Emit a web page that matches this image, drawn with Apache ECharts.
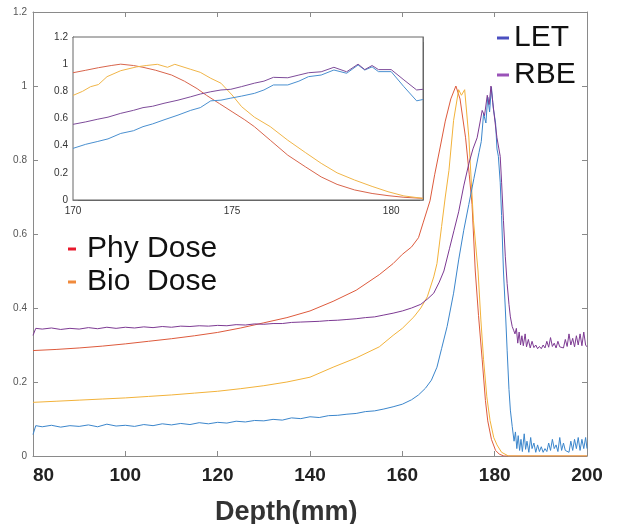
<!DOCTYPE html>
<html>
<head>
<meta charset="utf-8">
<script src="https://cdn.jsdelivr.net/npm/echarts@6/dist/echarts.min.js"></script>
<style>
  html, body { margin: 0; padding: 0; background: #fff; }
  #chart { width: 618px; height: 524px; }
</style>
</head>
<body>
<div id="chart"></div>
<script>
// main plot: [depth mm, normalised value]
const phyDose = [[80,0.285],[85,0.288],[90,0.292],[95,0.297],[100,0.303],[105,0.31],[110,0.317],[115,0.325],[120,0.334],[125,0.346],[130,0.36],[135,0.374],[140,0.392],[145,0.418],[150,0.448],[155,0.49],[158,0.52],[160,0.545],[162,0.565],[163.5,0.59],[164.5,0.63],[166,0.69],[167,0.76],[168.2,0.835],[169.3,0.905],[170.5,0.965],[171.6,1.0],[172.5,0.965],[173.7,0.86],[174.5,0.76],[175.1,0.68],[175.8,0.5],[176.5,0.38],[177.3,0.26],[178,0.15],[178.5,0.095],[179.3,0.045],[180.2,0.015],[181,0.005],[182,0],[200,0]]
const bioDose = [[80,0.145],[85,0.148],[90,0.151],[95,0.154],[100,0.157],[105,0.161],[110,0.165],[115,0.17],[120,0.175],[125,0.182],[130,0.19],[135,0.2],[140,0.213],[145,0.24],[150,0.265],[155,0.295],[158,0.326],[160,0.345],[162.5,0.376],[164,0.4],[165.4,0.43],[166.8,0.484],[167.5,0.52],[168.5,0.62],[169.3,0.7],[170.1,0.772],[171.1,0.907],[172.2,0.99],[172.8,0.975],[173.5,0.99],[174.4,0.862],[175.4,0.637],[176.4,0.5],[177,0.37],[177.6,0.26],[178.3,0.16],[179,0.096],[179.8,0.05],[180.5,0.03],[181.5,0.01],[183,0],[200,0]]
const letMain = [[80,0.058],[80.6,0.082],[82,0.079],[84,0.083],[86,0.078],[88,0.082],[90,0.08],[92,0.084],[94,0.079],[96,0.086],[98,0.081],[100,0.083],[102,0.08],[104,0.085],[106,0.082],[108,0.087],[110,0.084],[112,0.088],[114,0.085],[116,0.09],[118,0.087],[120,0.091],[122,0.089],[124,0.094],[126,0.092],[128,0.096],[130,0.095],[132,0.099],[134,0.097],[136,0.103],[138,0.101],[140,0.106],[142,0.104],[144,0.109],[146,0.11],[148,0.113],[150,0.115],[152,0.12],[154,0.122],[156,0.127],[158,0.133],[160,0.14],[162,0.152],[163.5,0.165],[165,0.183],[166.3,0.205],[167.5,0.24],[168.5,0.29],[169.7,0.35],[171.1,0.44],[172.2,0.53],[173.3,0.61],[174.4,0.68],[175.5,0.75],[176.6,0.82],[177.1,0.85],[177.6,0.925],[178.1,0.9],[178.5,0.97],[178.9,0.93],[179.3,0.997],[179.7,0.94],[180.2,0.9],[180.5,0.83],[180.8,0.81],[181.2,0.74],[181.5,0.65],[181.9,0.5],[182.3,0.4],[182.7,0.286],[183.1,0.18],[183.4,0.124],[183.8,0.08],[184.2,0.04],[184.5,0.065],[184.8,0.02],[185.1,0.055],[185.4,0.015],[185.7,0.045],[186,0.012],[186.4,0.06],[186.7,0.018],[187,0.04],[187.4,0.01],[187.8,0.05],[188.1,0.02],[188.5,0.035],[188.9,0.01],[189.3,0.03],[189.7,0.012],[190.1,0.025],[190.5,0.01],[190.9,0.02],[191.3,0.012],[191.7,0.035],[192.1,0.015],[192.5,0.045],[192.9,0.02],[193.3,0.03],[193.7,0.012],[194.1,0.05],[194.5,0.015],[194.9,0.035],[195.3,0.015],[195.7,0.02],[196.1,0.01],[196.5,0.04],[196.9,0.015],[197.3,0.045],[197.7,0.02],[198.1,0.05],[198.5,0.015],[198.9,0.045],[199.3,0.02],[199.7,0.05],[200,0.02]]
const rbeMain = [[80,0.326],[80.6,0.345],[82,0.343],[84,0.346],[86,0.342],[88,0.345],[90,0.343],[92,0.347],[94,0.344],[96,0.348],[98,0.345],[100,0.348],[102,0.346],[104,0.349],[106,0.347],[108,0.35],[110,0.348],[112,0.351],[114,0.35],[116,0.352],[118,0.351],[120,0.353],[122,0.352],[124,0.355],[126,0.354],[128,0.357],[130,0.356],[132,0.358],[134,0.358],[136,0.361],[138,0.362],[140,0.363],[142,0.364],[144,0.366],[146,0.367],[148,0.369],[150,0.371],[152,0.374],[154,0.376],[156,0.381],[158,0.386],[160,0.392],[162,0.4],[164,0.41],[165.5,0.425],[166.8,0.44],[168,0.47],[169,0.5],[170.2,0.56],[171.2,0.61],[172.2,0.66],[173.3,0.73],[174.4,0.79],[175.3,0.83],[176.2,0.86],[176.8,0.9],[177.3,0.934],[177.8,0.92],[178.4,0.975],[178.8,0.95],[179.2,1.0],[179.6,0.955],[180.1,0.9],[180.5,0.86],[181.2,0.81],[181.5,0.74],[181.9,0.637],[182.3,0.54],[182.7,0.466],[183.1,0.41],[183.4,0.376],[183.8,0.35],[184.1,0.34],[184.4,0.33],[184.7,0.345],[185,0.305],[185.3,0.335],[185.6,0.3],[185.9,0.325],[186.2,0.298],[186.6,0.33],[186.9,0.295],[187.3,0.315],[187.7,0.292],[188.1,0.31],[188.5,0.293],[188.9,0.3],[189.3,0.29],[189.7,0.296],[190.1,0.29],[190.5,0.3],[190.9,0.292],[191.3,0.31],[191.7,0.294],[192.1,0.32],[192.5,0.296],[192.9,0.305],[193.3,0.292],[193.7,0.31],[194.1,0.295],[194.5,0.3],[194.9,0.292],[195.3,0.315],[195.7,0.296],[196.1,0.33],[196.5,0.3],[196.9,0.318],[197.3,0.295],[197.7,0.325],[198.1,0.3],[198.5,0.33],[198.9,0.298],[199.3,0.335],[199.7,0.3],[200,0.295]]

// inset, 170-181 mm
const insetPhy = [[170,0.937],[170.4,0.955],[170.8,0.974],[171.2,0.99],[171.5,1.0],[171.9,0.99],[172.2,0.977],[172.6,0.955],[173.1,0.92],[173.5,0.875],[173.9,0.82],[174.2,0.77],[174.6,0.71],[175,0.65],[175.4,0.59],[175.7,0.54],[176.2,0.44],[176.75,0.33],[177.3,0.245],[177.8,0.17],[178.3,0.115],[178.85,0.074],[179.4,0.048],[179.9,0.032],[180.4,0.02],[181,0.012]]
const insetBio = [[170,0.77],[170.3,0.8],[170.55,0.834],[170.8,0.85],[171.07,0.908],[171.5,0.952],[172,0.98],[172.3,0.99],[172.65,0.999],[172.97,0.977],[173.2,0.999],[173.7,0.962],[174,0.94],[174.33,0.896],[174.65,0.86],[175,0.773],[175.3,0.687],[175.7,0.61],[176.2,0.54],[176.75,0.44],[177.3,0.35],[177.8,0.27],[178.3,0.2],[178.85,0.147],[179.4,0.1],[179.9,0.061],[180.4,0.03],[181,0.012]]
const insetLet = [[170,0.38],[170.4,0.41],[170.76,0.43],[171.1,0.45],[171.5,0.49],[171.9,0.51],[172.2,0.54],[172.5,0.56],[172.86,0.59],[173.3,0.625],[173.7,0.66],[174,0.68],[174.33,0.73],[174.65,0.735],[174.96,0.75],[175.3,0.765],[175.7,0.785],[176,0.81],[176.3,0.847],[176.75,0.847],[177.1,0.875],[177.4,0.908],[177.8,0.92],[178.2,0.957],[178.6,0.933],[178.96,0.994],[179.17,0.957],[179.4,0.98],[179.6,0.945],[180,0.945],[180.4,0.834],[180.8,0.73],[181,0.74]]
const insetRbe = [[170,0.557],[170.4,0.575],[170.76,0.594],[171.1,0.61],[171.5,0.638],[171.9,0.66],[172.2,0.68],[172.5,0.69],[172.86,0.712],[173.3,0.735],[173.7,0.76],[174,0.78],[174.33,0.797],[174.65,0.81],[174.96,0.815],[175.3,0.835],[175.7,0.86],[176,0.875],[176.3,0.903],[176.75,0.9],[177.1,0.92],[177.4,0.937],[177.8,0.944],[178.2,0.977],[178.6,0.944],[178.96,1.0],[179.17,0.96],[179.4,0.99],[179.6,0.96],[180,0.96],[180.4,0.884],[180.8,0.81],[181,0.815]]

const font = 'Liberation Sans, Arial, sans-serif'
const colors = { phy: '#dd5a3c', bio: '#f2b23a', let: '#3b86cc', rbe: '#7d3a93' }

function line(name, data, color, xi, yi) {
  return {
    name: name,
    type: 'line',
    data: data,
    xAxisIndex: xi,
    yAxisIndex: yi,
    showSymbol: false,
    symbol: 'none',
    lineStyle: { width: 1, color: color },
    itemStyle: { color: color }
  }
}

// plain axis with ticks pointing inward, like the matlab box
function boxAxis(extra) {
  return Object.assign({
    type: 'value',
    axisLine: { show: true, onZero: false, lineStyle: { color: '#8a8a8a' } },
    axisTick: { show: true, inside: true, length: 5, lineStyle: { color: '#8a8a8a' } },
    splitLine: { show: false },
    axisLabel: { show: false }
  }, extra)
}

const chart = echarts.init(document.getElementById('chart'))
const option = {
  animation: false,
  backgroundColor: '#fff',
  textStyle: { fontFamily: font },
  grid: [
    { left: 33, top: 12, width: 554, height: 444 },
    { left: 73, top: 37, width: 350, height: 163, show: true, backgroundColor: '#fff', borderColor: '#666', borderWidth: 1, z: 3 }
  ],
  title: {
    text: 'Depth(mm)',
    left: 215,
    top: 499,
    padding: 0,
    textStyle: { fontFamily: font, fontSize: 27, fontWeight: 'bold', color: '#333' }
  },
  legend: [
    {
      orient: 'vertical',
      left: 68,
      top: 234,
      padding: 0,
      itemGap: 3,
      itemWidth: 8,
      itemHeight: 3,
      icon: 'rect',
      textStyle: { fontFamily: font, fontSize: 30, lineHeight: 28, color: '#111', padding: [0, 0, 0, 6] },
      data: [
        { name: 'Phy Dose', itemStyle: { color: '#e8192c' } },
        { name: 'Bio  Dose', itemStyle: { color: '#f08a3c' } }
      ]
    },
    {
      orient: 'vertical',
      left: 497,
      top: 21,
      padding: 0,
      itemGap: 3,
      itemWidth: 12,
      itemHeight: 3,
      icon: 'rect',
      textStyle: { fontFamily: font, fontSize: 30, lineHeight: 34, color: '#111' },
      data: [
        { name: 'LET', itemStyle: { color: '#4a4fc0' } },
        { name: 'RBE', itemStyle: { color: '#9a52b8' } }
      ]
    }
  ],
  xAxis: [
    boxAxis({
      gridIndex: 0, position: 'bottom', min: 80, max: 200, interval: 20,
      axisLabel: { show: true, margin: 10, fontSize: 19, fontWeight: 'bold', color: '#222', alignMinLabel: 'left' }
    }),
    boxAxis({ gridIndex: 0, position: 'top', min: 80, max: 200, interval: 20 }),
    boxAxis({
      gridIndex: 1, position: 'bottom', min: 170, max: 181, interval: 5,
      axisLine: { show: true, onZero: false, lineStyle: { color: '#666' } },
      axisLabel: { show: true, margin: 6, fontSize: 10, color: '#333', showMaxLabel: false }
    }),
    boxAxis({ gridIndex: 1, position: 'top', min: 170, max: 181, interval: 5, axisLine: { show: true, onZero: false, lineStyle: { color: '#666' } } })
  ],
  yAxis: [
    boxAxis({
      gridIndex: 0, position: 'left', min: 0, max: 1.2, interval: 0.2,
      axisLabel: { show: true, margin: 6, fontSize: 10, color: '#555' }
    }),
    boxAxis({ gridIndex: 0, position: 'right', min: 0, max: 1.2, interval: 0.2 }),
    boxAxis({
      gridIndex: 1, position: 'left', min: 0, max: 1.2, interval: 0.2,
      axisLine: { show: true, onZero: false, lineStyle: { color: '#666' } },
      axisLabel: { show: true, margin: 5, fontSize: 10, color: '#333' }
    }),
    boxAxis({ gridIndex: 1, position: 'right', min: 0, max: 1.2, interval: 0.2, axisTick: { show: true, inside: true, length: 3, lineStyle: { color: '#999' } }, axisLine: { show: true, onZero: false, lineStyle: { color: '#666' } } })
  ],
  series: [
    line('Phy Dose', phyDose, colors.phy, 0, 0),
    line('Bio  Dose', bioDose, colors.bio, 0, 0),
    line('LET', letMain, colors.let, 0, 0),
    line('RBE', rbeMain, colors.rbe, 0, 0),
    line('Phy Dose', insetPhy, '#d8654c', 2, 2),
    line('Bio  Dose', insetBio, '#f0b548', 2, 2),
    line('LET', insetLet, '#4a90d0', 2, 2),
    line('RBE', insetRbe, '#7e4c9a', 2, 2)
  ]
}
chart.setOption(option)
</script>
</body>
</html>
